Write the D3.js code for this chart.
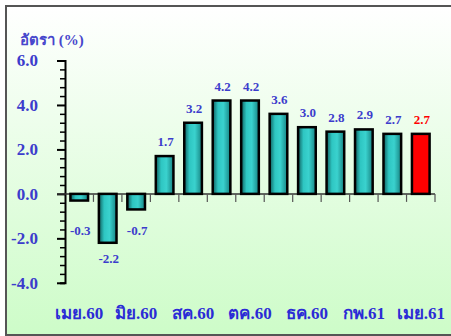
<html>
<head>
<meta charset="utf-8">
<title>อัตรา (%)</title>
<style type="text/css">
  body { margin: 0; background: #fff; }
  text { font-family: "Liberation Serif", "DejaVu Serif", serif; font-weight: bold; }
</style>
<script src="https://cdn.jsdelivr.net/npm/d3@7"></script>
</head>
<body>
<svg width="451" height="336"></svg>
<script>
var months = ["เมย.60","พค.60","มิย.60","กค.60","สค.60","กย.60","ตค.60","พย.60","ธค.60","มค.61","กพ.61","มีค.61","เมย.61"];
var values = [-0.3,-2.2,-0.7,1.7,3.2,4.2,4.2,3.6,3.0,2.8,2.9,2.7,2.7];
var yTicks = [-4,-2,0,2,4,6];
var shownMonths = ["เมย.60","มิย.60","สค.60","ตค.60","ธค.60","กพ.61","เมย.61"];
var yTitle = "อัตรา (%)";

var svg = d3.select("svg");
var defs = svg.append("defs");

var bg = defs.append("linearGradient").attr("id","bg").attr("x1",0).attr("y1",0).attr("x2",0).attr("y2",1);
bg.append("stop").attr("offset","0%").attr("stop-color","#ffffff");
bg.append("stop").attr("offset","100%").attr("stop-color","#cdfcc8");

var bar = defs.append("linearGradient").attr("id","bar").attr("x1",0).attr("y1",0).attr("x2",1).attr("y2",0);
bar.append("stop").attr("offset","0%").attr("stop-color","#0f5f5e");
bar.append("stop").attr("offset","30%").attr("stop-color","#2ec6c2");
bar.append("stop").attr("offset","60%").attr("stop-color","#3ad2ce");
bar.append("stop").attr("offset","100%").attr("stop-color","#178483");

svg.append("rect")
   .attr("x",6).attr("y",6).attr("width",460).attr("height",329)
   .attr("fill","url(#bg)").attr("stroke","#555").attr("stroke-width",2);

var x = d3.scaleBand().domain(months).range([65,435]).paddingInner(0.38).paddingOuter(0.19);
var y = d3.scaleLinear().domain([-4,6]).range([282.8,60.5]);
var gap = (x.step()-x.bandwidth())/2;

// y axis
var yAxis = svg.append("g")
   .attr("transform","translate(65,0)")
   .call(d3.axisLeft(y).tickValues(d3.range(-4,6.01,0.4)).tickSize(5).tickFormat(""));
yAxis.select(".domain").attr("stroke","#000").attr("stroke-width",2);
yAxis.selectAll(".tick line").attr("stroke","#000").attr("stroke-width",1.5);
yAxis.selectAll(".tick").filter(d=>yTicks.some(t=>Math.abs(t-d)<1e-6))
     .select("line").attr("x2",-8).attr("stroke-width",2);

svg.append("g").selectAll("text")
   .data(yTicks).enter().append("text")
   .attr("x",38).attr("y",d=>y(d)).attr("dy","0.35em")
   .attr("text-anchor","end")
   .attr("fill","#3c3ccc").style("font-size","17px")
   .text(d=>d.toFixed(1));

svg.append("text")
   .attr("x",20).attr("y",45)
   .attr("fill","#4646cc").style("font-size","15px")
   .text(yTitle);

// x axis
var xAxis = svg.append("g")
   .attr("transform",`translate(0,${y(0)})`);
xAxis.append("line")
   .attr("x1",57).attr("x2",435).attr("stroke","#333").attr("stroke-width",1.5);
xAxis.selectAll("line.tk")
   .data(months).enter().append("line")
   .attr("class","tk")
   .attr("x1",d=>x(d)+x.bandwidth()+gap)
   .attr("x2",d=>x(d)+x.bandwidth()+gap)
   .attr("y1",0).attr("y2",8)
   .attr("stroke","#555").attr("stroke-width",1.2);

// bars
svg.append("g").selectAll("rect")
   .data(values).enter().append("rect")
   .attr("x",(d,i)=>x(months[i]))
   .attr("width",x.bandwidth())
   .attr("y",d=>y(Math.max(0,d)))
   .attr("height",d=>Math.abs(y(d)-y(0)))
   .attr("fill",(d,i)=>i===values.length-1?"#ff0000":"url(#bar)")
   .attr("stroke","#000").attr("stroke-width",2.5);

// value labels
svg.append("g").selectAll("text")
   .data(values).enter().append("text")
   .attr("x",(d,i)=>x(months[i])+x.bandwidth()/2+1)
   .attr("y",d=>d>=0?y(d)-10:Math.max(y(d)+20,y(0)+41))
   .attr("text-anchor","middle")
   .attr("fill",(d,i)=>i===values.length-1?"#ff0000":"#3c3ccc")
   .style("font-size","13px")
   .text(d=>d.toFixed(1));

// month labels
svg.append("g").selectAll("text")
   .data(shownMonths).enter().append("text")
   .attr("x",d=>x(d)+x.bandwidth()/2)
   .attr("y",319)
   .attr("text-anchor","middle")
   .attr("fill","#2b2bd6").style("font-size","17px")
   .text(d=>d);
</script>
</body>
</html>
